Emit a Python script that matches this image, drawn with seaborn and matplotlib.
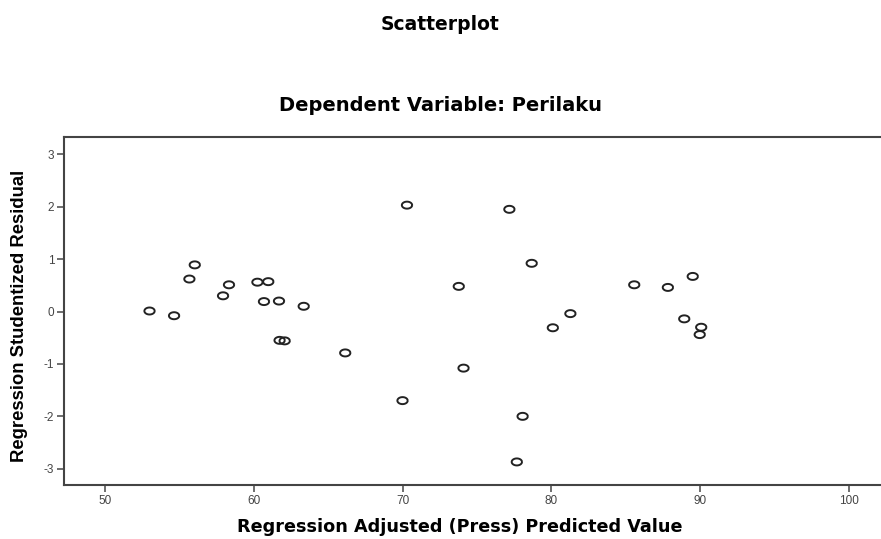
import numpy as np
import pandas as pd
import matplotlib
matplotlib.use('Agg')
import matplotlib.pyplot as plt
from matplotlib.path import Path
import seaborn as sns

# adjusted predicted value vs studentized residual
predicted = [53.0, 54.65, 55.68, 56.04, 57.94, 58.34, 60.25, 60.98, 60.69, 61.70,
             63.36, 70.3, 61.74, 62.08, 66.15, 70.0, 77.18, 78.68, 73.78, 85.57,
             87.83, 89.5, 81.28, 80.1, 88.93, 90.07, 89.97, 74.1, 78.07, 77.68]
residual = [0.01, -0.08, 0.62, 0.89, 0.30, 0.51, 0.56, 0.57, 0.19, 0.20,
            0.10, 2.03, -0.55, -0.56, -0.79, -1.70, 1.95, 0.92, 0.48, 0.51,
            0.46, 0.67, -0.04, -0.31, -0.14, -0.30, -0.44, -1.08, -2.0, -2.87]
x_ticks = [50, 60, 70, 80, 90, 100]
y_ticks = [-3, -2, -1, 0, 1, 2, 3]

df = pd.DataFrame({"pred": predicted, "resid": residual})

sns.set_theme(style="white")
plt.rcParams['font.family'] = ['Liberation Sans', 'DejaVu Sans']
plt.rcParams['axes.unicode_minus'] = False
plt.rcParams['text.color'] = 'black'
plt.rcParams['axes.labelcolor'] = 'black'

# slightly flattened circle, like the SPSS marker
t = np.linspace(0, 2 * np.pi, 40)
oval = Path(np.column_stack([np.cos(t), 0.68 * np.sin(t)]))

fig = plt.figure(figsize=(8.81, 5.39), dpi=100)
ax = fig.add_axes([0.0726, 0.1002, 0.935, 0.6456])
sns.scatterplot(data=df, x="pred", y="resid", ax=ax, marker=oval, s=55,
                facecolor='none', edgecolor='#222222', linewidth=1.4)

ax.set_xlim(47.25, 102.6)
ax.set_ylim(-3.31, 3.33)
ax.set_xticks(x_ticks)
ax.set_yticks(y_ticks)
ax.tick_params(axis='both', direction='out', length=5, width=1.2, color='#555555',
               labelsize=8.5, labelcolor='#444444', left=True, bottom=True, pad=2)
for side in ['left', 'bottom', 'top', 'right']:
    ax.spines[side].set_color('#444444')
    ax.spines[side].set_linewidth(1.5)

ax.set_xlabel("Regression Adjusted (Press) Predicted Value", fontsize=12.7,
              fontweight='bold', family='DejaVu Sans')
ax.set_ylabel("Regression Studentized Residual", fontsize=13.3, fontweight='bold')
ax.xaxis.set_label_coords(0.48, -0.094)
ax.yaxis.set_label_coords(-0.0435, 0.487)

# both titles are centred on the page, not on the (cropped) plot box
fig.text(0.5, 0.805, "Dependent Variable: Perilaku", ha='center', va='center',
         fontsize=14, fontweight='bold', family='DejaVu Sans')
fig.text(0.5, 0.955, "Scatterplot", ha='center', va='center', fontsize=13.5,
         fontweight='bold', family='DejaVu Sans')

fig.savefig("out.png", dpi=100)
